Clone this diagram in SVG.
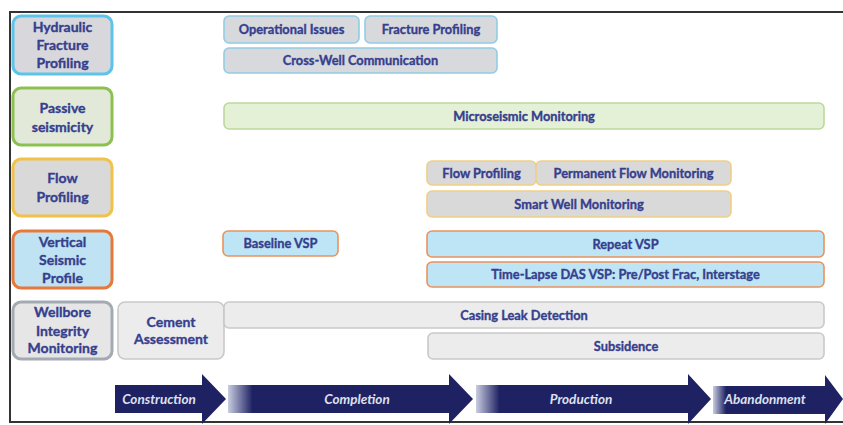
<svg xmlns="http://www.w3.org/2000/svg" width="843" height="425" viewBox="0 0 843 425">
<defs>
<style>
.cat{stroke-width:3}
.sub{stroke-width:1.6}
.t{font-family:Lato,"Open Sans","Liberation Sans",sans-serif;font-weight:bold;fill:#363f8e;stroke:#363f8e;stroke-width:0.35;text-anchor:middle}
.tc{font-size:14px}
.ts{font-size:12.8px}
.ta{font-family:Lato,"Open Sans","Liberation Sans",sans-serif;font-weight:bold;font-style:italic;font-size:13.5px;fill:#dde0ee;text-anchor:middle}
.arrow{fill:#1e2263}
.blue{stroke:#5cc3ea}
.green{stroke:#8cc152}
.gold{stroke:#f0c24a}
.orange{stroke:#e8783a}
.grey{stroke:#a4aab2}
.sblue{fill:#d7d9dd;stroke:#93cbe4}
.sgreen{fill:#e5f1d6;stroke:#bcd99c}
.sgold{fill:#d9d9d9;stroke:#f0cf84}
.sorange{fill:#bee5f5;stroke:#e9935c}
.sgrey{fill:#ececec;stroke:#c9c9c9}
</style>
<linearGradient id="fade" x1="0" x2="1" y1="0" y2="0">
<stop offset="0" stop-color="#c9cde0"/>
<stop offset="0.1" stop-color="#1e2263"/>
<stop offset="1" stop-color="#1e2263"/>
</linearGradient>
</defs>
<rect width="843" height="425" fill="#ffffff"/>
<path d="M10,423 V12 H843" fill="none" stroke="#333333" stroke-width="2"/>
<path d="M10,422 H843" fill="none" stroke="#333333" stroke-width="2"/>

<g id="cat-hydraulic">
<rect class="cat blue" x="13" y="16" width="99" height="58" rx="8" fill="#d8d8dc"/>
<text class="t tc" x="62.5" y="31.5">Hydraulic</text>
<text class="t tc" x="62.5" y="49.5">Fracture</text>
<text class="t tc" x="62.5" y="67.5">Profiling</text>
</g>
<g id="cat-passive">
<rect class="cat green" x="13" y="88" width="99" height="57" rx="8" fill="#e2e9d9"/>
<text class="t tc" x="62.5" y="113">Passive</text>
<text class="t tc" x="62.5" y="131.5">seismicity</text>
</g>
<g id="cat-flow">
<rect class="cat gold" x="13" y="159" width="99" height="57" rx="8" fill="#d9d9d9"/>
<text class="t tc" x="62.5" y="182.5">Flow</text>
<text class="t tc" x="62.5" y="201.5">Profiling</text>
</g>
<g id="cat-vsp">
<rect class="cat orange" x="13" y="231" width="99" height="57" rx="8" fill="#bfe3f2"/>
<text class="t tc" x="62.5" y="247">Vertical</text>
<text class="t tc" x="62.5" y="265">Seismic</text>
<text class="t tc" x="62.5" y="282.5">Profile</text>
</g>
<g id="cat-wellbore">
<rect class="cat grey" x="13" y="302" width="99" height="57" rx="8" fill="#e6e6e6"/>
<text class="t tc" x="62.5" y="316.5">Wellbore</text>
<text class="t tc" x="62.5" y="335.5">Integrity</text>
<text class="t tc" x="62.5" y="352.5">Monitoring</text>
</g>

<g id="operational-issues">
<rect class="sub sblue" x="224" y="16" width="135" height="27" rx="5"/>
<text class="t ts" x="291.5" y="34">Operational Issues</text>
</g>
<g id="fracture-profiling">
<rect class="sub sblue" x="365" y="16" width="132" height="27" rx="5"/>
<text class="t ts" x="431" y="34">Fracture Profiling</text>
</g>
<g id="cross-well">
<rect class="sub sblue" x="224" y="48" width="273" height="25" rx="5"/>
<text class="t ts" x="360.5" y="65">Cross-Well Communication</text>
</g>
<g id="microseismic">
<rect class="sub sgreen" x="224" y="103" width="600" height="26" rx="5"/>
<text class="t ts" x="524" y="120.5">Microseismic Monitoring</text>
</g>
<g id="flow-profiling">
<rect class="sub sgold" x="427" y="161" width="109" height="24" rx="5"/>
<text class="t ts" x="481.5" y="177.5">Flow Profiling</text>
</g>
<g id="permanent-flow">
<rect class="sub sgold" x="536" y="161" width="195" height="24" rx="5"/>
<text class="t ts" x="633.5" y="177.5">Permanent Flow Monitoring</text>
</g>
<g id="smart-well">
<rect class="sub sgold" x="427" y="191" width="304" height="26" rx="5"/>
<text class="t ts" x="579" y="208.5">Smart Well Monitoring</text>
</g>
<g id="baseline-vsp">
<rect class="sub sorange" x="223" y="231" width="115" height="25" rx="5"/>
<text class="t ts" x="280.5" y="248">Baseline VSP</text>
</g>
<g id="repeat-vsp">
<rect class="sub sorange" x="427" y="231" width="397" height="26" rx="5"/>
<text class="t ts" x="625.5" y="248.5">Repeat VSP</text>
</g>
<g id="time-lapse">
<rect class="sub sorange" x="427" y="262" width="397" height="25" rx="5"/>
<text class="t ts" x="625.5" y="279">Time-Lapse DAS VSP: Pre/Post Frac, Interstage</text>
</g>
<g id="cement-assessment">
<rect class="sub sgrey" x="118" y="302" width="106" height="57" rx="7"/>
<text class="t tc" x="171" y="327">Cement</text>
<text class="t tc" x="171" y="344">Assessment</text>
</g>
<g id="casing-leak">
<rect class="sub sgrey" x="224" y="302" width="600" height="26" rx="5"/>
<text class="t ts" x="524" y="319.5">Casing Leak Detection</text>
</g>
<g id="subsidence">
<rect class="sub sgrey" x="428" y="333" width="396" height="26" rx="5"/>
<text class="t ts" x="626" y="350.5">Subsidence</text>
</g>

<g id="phases">
<g id="construction">
<path class="arrow" d="M115,385 H202 V374 L226,399 L202,424 V413 H115 Z"/>
<text class="ta" x="159" y="404">Construction</text>
</g>
<g id="completion">
<path d="M228,385 H449 V374 L473,399 L449,424 V413 H228 Z" fill="url(#fade)"/>
<text class="ta" x="357" y="404">Completion</text>
</g>
<g id="production">
<path d="M476,385 H688 V374 L711,399 L688,424 V413 H476 Z" fill="url(#fade)"/>
<text class="ta" x="581" y="404">Production</text>
</g>
<g id="abandonment">
<path d="M713,386 H825 V375 L843,399 L825,424 V414 H713 Z" fill="url(#fade)"/>
<text class="ta" x="765" y="404">Abandonment</text>
</g>
</g>
</svg>
